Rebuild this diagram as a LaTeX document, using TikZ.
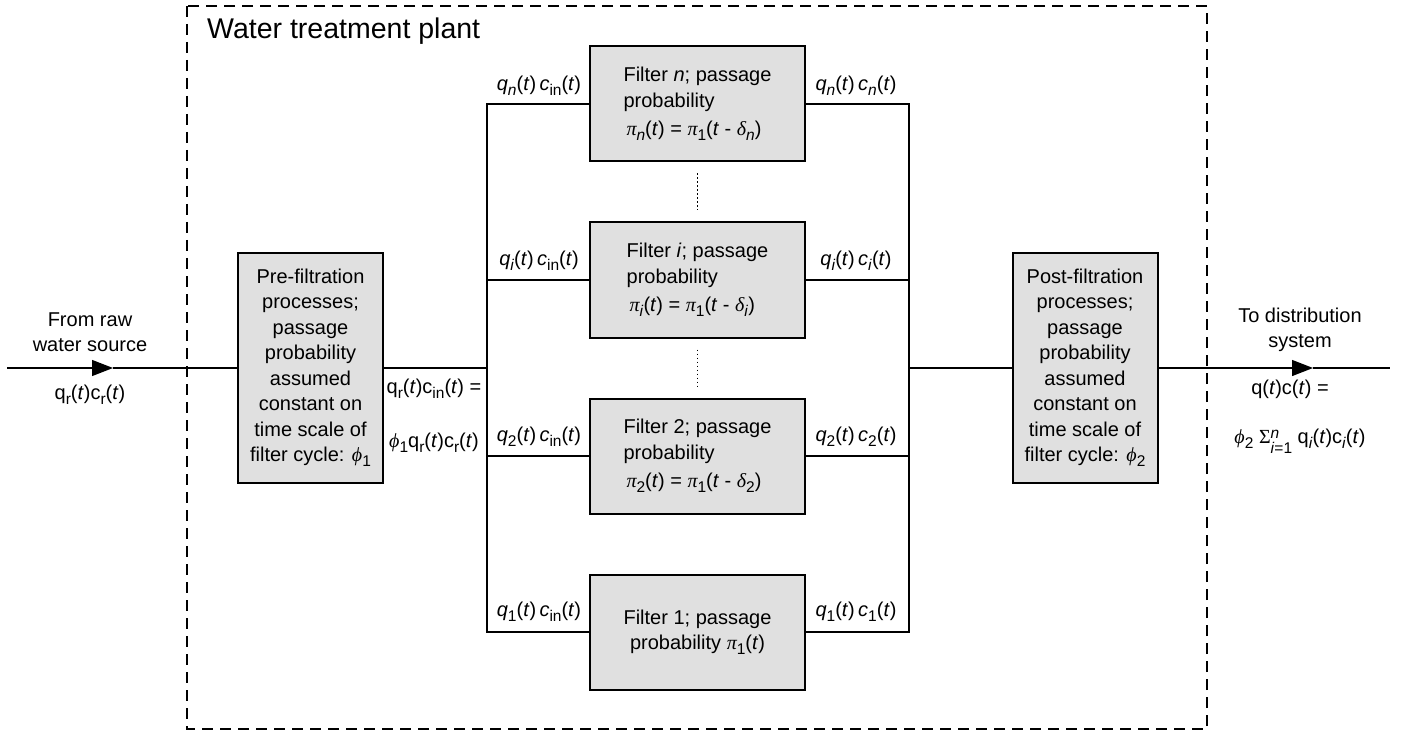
\documentclass[tikz,border=0pt]{standalone}
\usepackage{fontspec}
\setmainfont{Liberation Sans}
\newfontfamily\grkfont{Liberation Serif}
\usetikzlibrary{arrows.meta}

% italic Greek letter, upright Greek letter, lowered subscript, raised superscript
\newcommand{\gk}[1]{{\grkfont\itshape #1}}
\newcommand{\gku}[1]{{\grkfont #1}}
\newcommand{\sbs}[1]{\raisebox{-5pt}{\fontsize{15.5}{15.5}\selectfont #1}}
\newcommand{\sps}[1]{\raisebox{7pt}{\fontsize{15.5}{15.5}\selectfont #1}}
\newcommand{\ti}{\textit{t}}

\begin{document}
\begin{tikzpicture}[x=1pt,y=-1pt,
  every node/.style={font=\fontsize{20}{25.5}\selectfont},
  conn/.style={line width=1.3pt},
  procbox/.style={draw, line width=2pt, fill={rgb,255:red,224;green,224;blue,224},
                  inner sep=0pt, align=center},
  filterbox/.style={procbox, minimum width=215pt, minimum height=115pt},
  stagebox/.style={procbox, minimum width=145pt, minimum height=230pt},
  flowlabel/.style={inner sep=0pt, anchor=center, align=center},
  arrowhd/.style={conn, -{Triangle[length=21pt,width=16pt]}},
  skip/.style={line width=1.2pt, dash pattern=on 1.2pt off 2.8pt,
               shorten <=11pt, shorten >=11pt}
]
\useasboundingbox (0,0) rectangle (1410,735);

% plant boundary
\draw[line width=1.3pt, dash pattern=on 11pt off 7pt] (187,6) rectangle (1207,729);
\node[anchor=west, inner sep=0pt, font=\fontsize{28.5}{32}\selectfont] (title) at (207,31) {Water treatment plant};

% treatment stages
\node[stagebox] (pre) at (310.5,368) {Pre-filtration\\processes;\\passage\\probability\\assumed\\constant on\\time scale of\\filter cycle: \gk{ϕ}\sbs{1}};
\node[stagebox] (post) at (1085,368) {Post-filtration\\processes;\\passage\\probability\\assumed\\constant on\\time scale of\\filter cycle: \gk{ϕ}\sbs{2}};

% parallel filters
\node[filterbox, align=left] (fn) at (697.5,104) {Filter \textit{n}; passage\\probability\\[3pt]\hspace{3pt}\gk{π}\sbs{\textit{n}}(\ti) = \gk{π}\sbs{1}(\ti{} - \gk{δ}\sbs{\textit{n}})};
\node[filterbox, align=left] (fi) at (697.5,280) {Filter \textit{i}; passage\\probability\\[3pt]\hspace{3pt}\gk{π}\sbs{\textit{i}}(\ti) = \gk{π}\sbs{1}(\ti{} - \gk{δ}\sbs{\textit{i}})};
\node[filterbox, align=left] (f2) at (697.5,456) {Filter 2; passage\\probability\\[3pt]\hspace{3pt}\gk{π}\sbs{2}(\ti) = \gk{π}\sbs{1}(\ti{} - \gk{δ}\sbs{2})};
\node[filterbox] (f1) at (697.5,632) {Filter 1; passage\\probability \gk{π}\sbs{1}(\ti)};

% omitted filters
\draw[skip] (fn.south) -- (fi.north);
\draw[skip] (fi.south) -- (f2.north);

% inflow
\coordinate (src) at (7,368);
\coordinate (tipin) at (113,368);
\draw[arrowhd] (src) -- (tipin);
\draw[conn] (tipin) -- (pre.west);
\node[flowlabel] (lsrc) at (90,332) {From raw\\water source};
\node[flowlabel] (lqr) at (90,395) {q\sbs{r}(\ti)c\sbs{r}(\ti)};

% distribution to filters
\coordinate (busL) at (487,368);
\draw[conn] (pre.east) -- (busL);
\foreach \f in {fn,fi,f2,f1} \draw[conn] (\f.west) -| (busL);
\node[flowlabel] (lin1) at (434,389) {q\sbs{r}(\ti)c\sbs{in}(\ti) =};
\node[flowlabel] (lin2) at (434,443) {\gk{ϕ}\sbs{1}q\sbs{r}(\ti)c\sbs{r}(\ti)};

% collection from filters
\coordinate (busR) at (909,368);
\foreach \f in {fn,fi,f2,f1} \draw[conn] (\f.east) -| (busR);
\draw[conn] (busR) -- (post.west);

% filter inflow and outflow labels
\node[flowlabel] (qnin) at (539,86) {\textit{q}\sbs{\textit{n}}(\ti)\,\textit{c}\sbs{in}(\ti)};
\node[flowlabel] (qiin) at (539,261) {\textit{q}\sbs{\textit{i}}(\ti)\,\textit{c}\sbs{in}(\ti)};
\node[flowlabel] (q2in) at (539,437) {\textit{q}\sbs{2}(\ti)\,\textit{c}\sbs{in}(\ti)};
\node[flowlabel] (q1in) at (539,612) {\textit{q}\sbs{1}(\ti)\,\textit{c}\sbs{in}(\ti)};
\node[flowlabel] (qnout) at (856,86) {\textit{q}\sbs{\textit{n}}(\ti)\,\textit{c}\sbs{\textit{n}}(\ti)};
\node[flowlabel] (qiout) at (856,261) {\textit{q}\sbs{\textit{i}}(\ti)\,\textit{c}\sbs{\textit{i}}(\ti)};
\node[flowlabel] (q2out) at (856,437) {\textit{q}\sbs{2}(\ti)\,\textit{c}\sbs{2}(\ti)};
\node[flowlabel] (q1out) at (856,612) {\textit{q}\sbs{1}(\ti)\,\textit{c}\sbs{1}(\ti)};

% outflow
\coordinate (tipout) at (1313,368);
\coordinate (dst) at (1390,368);
\draw[arrowhd] (post.east) -- (tipout);
\draw[conn] (tipout) -- (dst);
\node[flowlabel] (ldst) at (1300,330) {To distribution\\system};
\node[flowlabel] (lout1) at (1290,389) {q(\ti)c(\ti) =};
\node[flowlabel] (lout2) at (1300,443) {\gk{ϕ}\sbs{2} \gku{Σ}\raisebox{-3pt}{\fontsize{15.5}{12}\selectfont\begin{tabular}[c]{@{}l@{}}\textit{n}\\\textit{i}=1\end{tabular}} q\sbs{\textit{i}}(\ti)c\sbs{\textit{i}}(\ti)};
\end{tikzpicture}
\end{document}
